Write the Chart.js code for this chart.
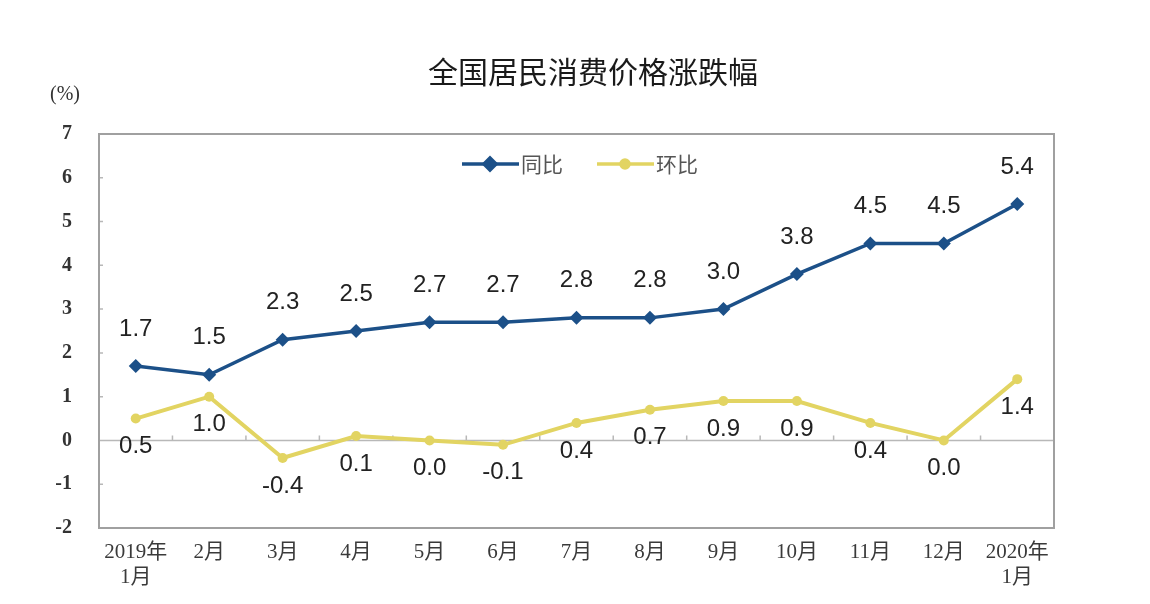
<!DOCTYPE html>
<html lang="zh-CN">
<head>
    <meta charset="UTF-8">
    <title>全国居民消费价格涨跌幅</title>
    <script src="https://cdn.jsdelivr.net/npm/chart.js"></script>
    <style>
        html, body {
            margin: 0;
            padding: 0;
            background: #ffffff;
        }
        #wrap {
            width: 1150px;
            height: 604px;
        }
    </style>
</head>
<body>
    <div id="wrap"><canvas id="cpiChart"></canvas></div>

    <script>
        // data
        const months = [['2019年', '1月'], '2月', '3月', '4月', '5月', '6月', '7月', '8月', '9月', '10月', '11月', '12月', ['2020年', '1月']];
        const yoy = [1.7, 1.5, 2.3, 2.5, 2.7, 2.7, 2.8, 2.8, 3.0, 3.8, 4.5, 4.5, 5.4];   // 同比
        const mom = [0.5, 1.0, -0.4, 0.1, 0.0, -0.1, 0.4, 0.7, 0.9, 0.9, 0.4, 0.0, 1.4]; // 环比
        const yMin = -2;
        const yMax = 7;

        const chartTitle = '全国居民消费价格涨跌幅';
        const unitLabel = '(%)';

        const blue = '#1c5088';
        const yellow = '#e2d462';

        // box, zero line, labels, legend and title drawn by hand
        const decor = {
            id: 'decor',
            beforeDatasetsDraw(chart) {
                const { ctx, chartArea: a, scales: { x, y } } = chart;
                ctx.save();
                const y0 = y.getPixelForValue(0);
                ctx.strokeStyle = '#b8b8b8';
                ctx.lineWidth = 1.5;
                ctx.beginPath();
                ctx.moveTo(a.left, y0);
                ctx.lineTo(a.right, y0);
                for (let i = 1; i < months.length; i++) {
                    const bx = (x.getPixelForValue(i - 1) + x.getPixelForValue(i)) / 2;
                    ctx.moveTo(bx, y0);
                    ctx.lineTo(bx, y0 - 5);
                }
                // little marks inside the left border
                for (let v = yMin + 1; v < yMax; v++) {
                    const py = y.getPixelForValue(v);
                    ctx.moveTo(a.left, py);
                    ctx.lineTo(a.left + 4, py);
                }
                ctx.stroke();

                ctx.strokeStyle = '#a0a0a0';
                ctx.lineWidth = 2;
                ctx.strokeRect(a.left, a.top, a.right - a.left, a.bottom - a.top);
                ctx.restore();
            },
            afterDatasetsDraw(chart) {
                const ctx = chart.ctx;
                ctx.save();
                ctx.font = '24px "Liberation Sans", Arial, sans-serif';
                ctx.fillStyle = '#222222';
                ctx.textAlign = 'center';
                ctx.textBaseline = 'middle';
                chart.data.datasets.forEach((ds, i) => {
                    const meta = chart.getDatasetMeta(i);
                    const shift = i === 0 ? -37 : 28;
                    meta.data.forEach((pt, j) => {
                        ctx.fillText(ds.data[j].toFixed(1), pt.x, pt.y + shift);
                    });
                });
                ctx.restore();
            },
            afterDraw(chart) {
                const ctx = chart.ctx;
                ctx.save();
                // title
                ctx.fillStyle = '#1a1a1a';
                ctx.textAlign = 'center';
                ctx.textBaseline = 'middle';
                ctx.font = '30px "Noto Sans CJK SC", sans-serif';
                ctx.fillText(chartTitle, 593, 72);

                // unit
                ctx.fillStyle = '#333333';
                ctx.font = '20px "Liberation Serif", serif';
                ctx.fillText(unitLabel, 65, 95);

                // legend
                const legendX = [462, 597];
                const legendY = 164;
                ctx.font = '21px "Noto Sans CJK SC", sans-serif';
                ctx.textAlign = 'left';
                chart.data.datasets.forEach((ds, i) => {
                    const lx = legendX[i];
                    ctx.strokeStyle = ds.borderColor;
                    ctx.lineWidth = 3.5;
                    ctx.beginPath();
                    ctx.moveTo(lx, legendY);
                    ctx.lineTo(lx + 57, legendY);
                    ctx.stroke();
                    Chart.helpers.drawPoint(ctx, {
                        pointStyle: ds.pointStyle,
                        radius: ds.pointRadius - 1,
                        borderWidth: 1
                    }, lx + 28, legendY);
                    ctx.fillStyle = ds.borderColor;
                    ctx.fill();
                    ctx.fillStyle = '#555555';
                    ctx.fillText(ds.label, lx + 59, legendY);
                });
                ctx.restore();
            }
        };

        new Chart(document.getElementById('cpiChart'), {
            type: 'line',
            data: {
                labels: months,
                datasets: [{
                    label: '同比',
                    data: yoy,
                    borderColor: blue,
                    backgroundColor: blue,
                    borderWidth: 3.5,
                    pointStyle: 'rectRot',
                    pointRadius: 7,
                    pointBorderWidth: 0,
                    tension: 0
                }, {
                    label: '环比',
                    data: mom,
                    borderColor: yellow,
                    backgroundColor: yellow,
                    borderWidth: 4,
                    pointStyle: 'circle',
                    pointRadius: 5,
                    pointBorderWidth: 0,
                    tension: 0
                }]
            },
            options: {
                responsive: true,
                maintainAspectRatio: false,
                animation: false,
                layout: {
                    padding: { top: 134, right: 96, bottom: 0, left: 0 }
                },
                plugins: {
                    legend: { display: false },
                    title: { display: false },
                    tooltip: { enabled: false }
                },
                scales: {
                    x: {
                        offset: true,
                        grid: { display: false, drawTicks: false },
                        border: { display: false },
                        ticks: {
                            padding: 12,
                            maxRotation: 0,
                            autoSkip: false,
                            color: '#3a3a3a',
                            font: { family: '"Liberation Serif", "Noto Sans CJK SC", serif', size: 21 }
                        },
                        afterFit(scale) { scale.height = 76; }
                    },
                    y: {
                        min: yMin,
                        max: yMax,
                        grid: { display: false, drawTicks: false },
                        border: { display: false },
                        ticks: {
                            stepSize: 1,
                            padding: 27,
                            color: '#333333',
                            font: { family: '"Liberation Serif", serif', size: 20, weight: 'bold' }
                        },
                        afterFit(scale) { scale.width = 99; }
                    }
                }
            },
            plugins: [decor]
        });
    </script>
</body>
</html>
